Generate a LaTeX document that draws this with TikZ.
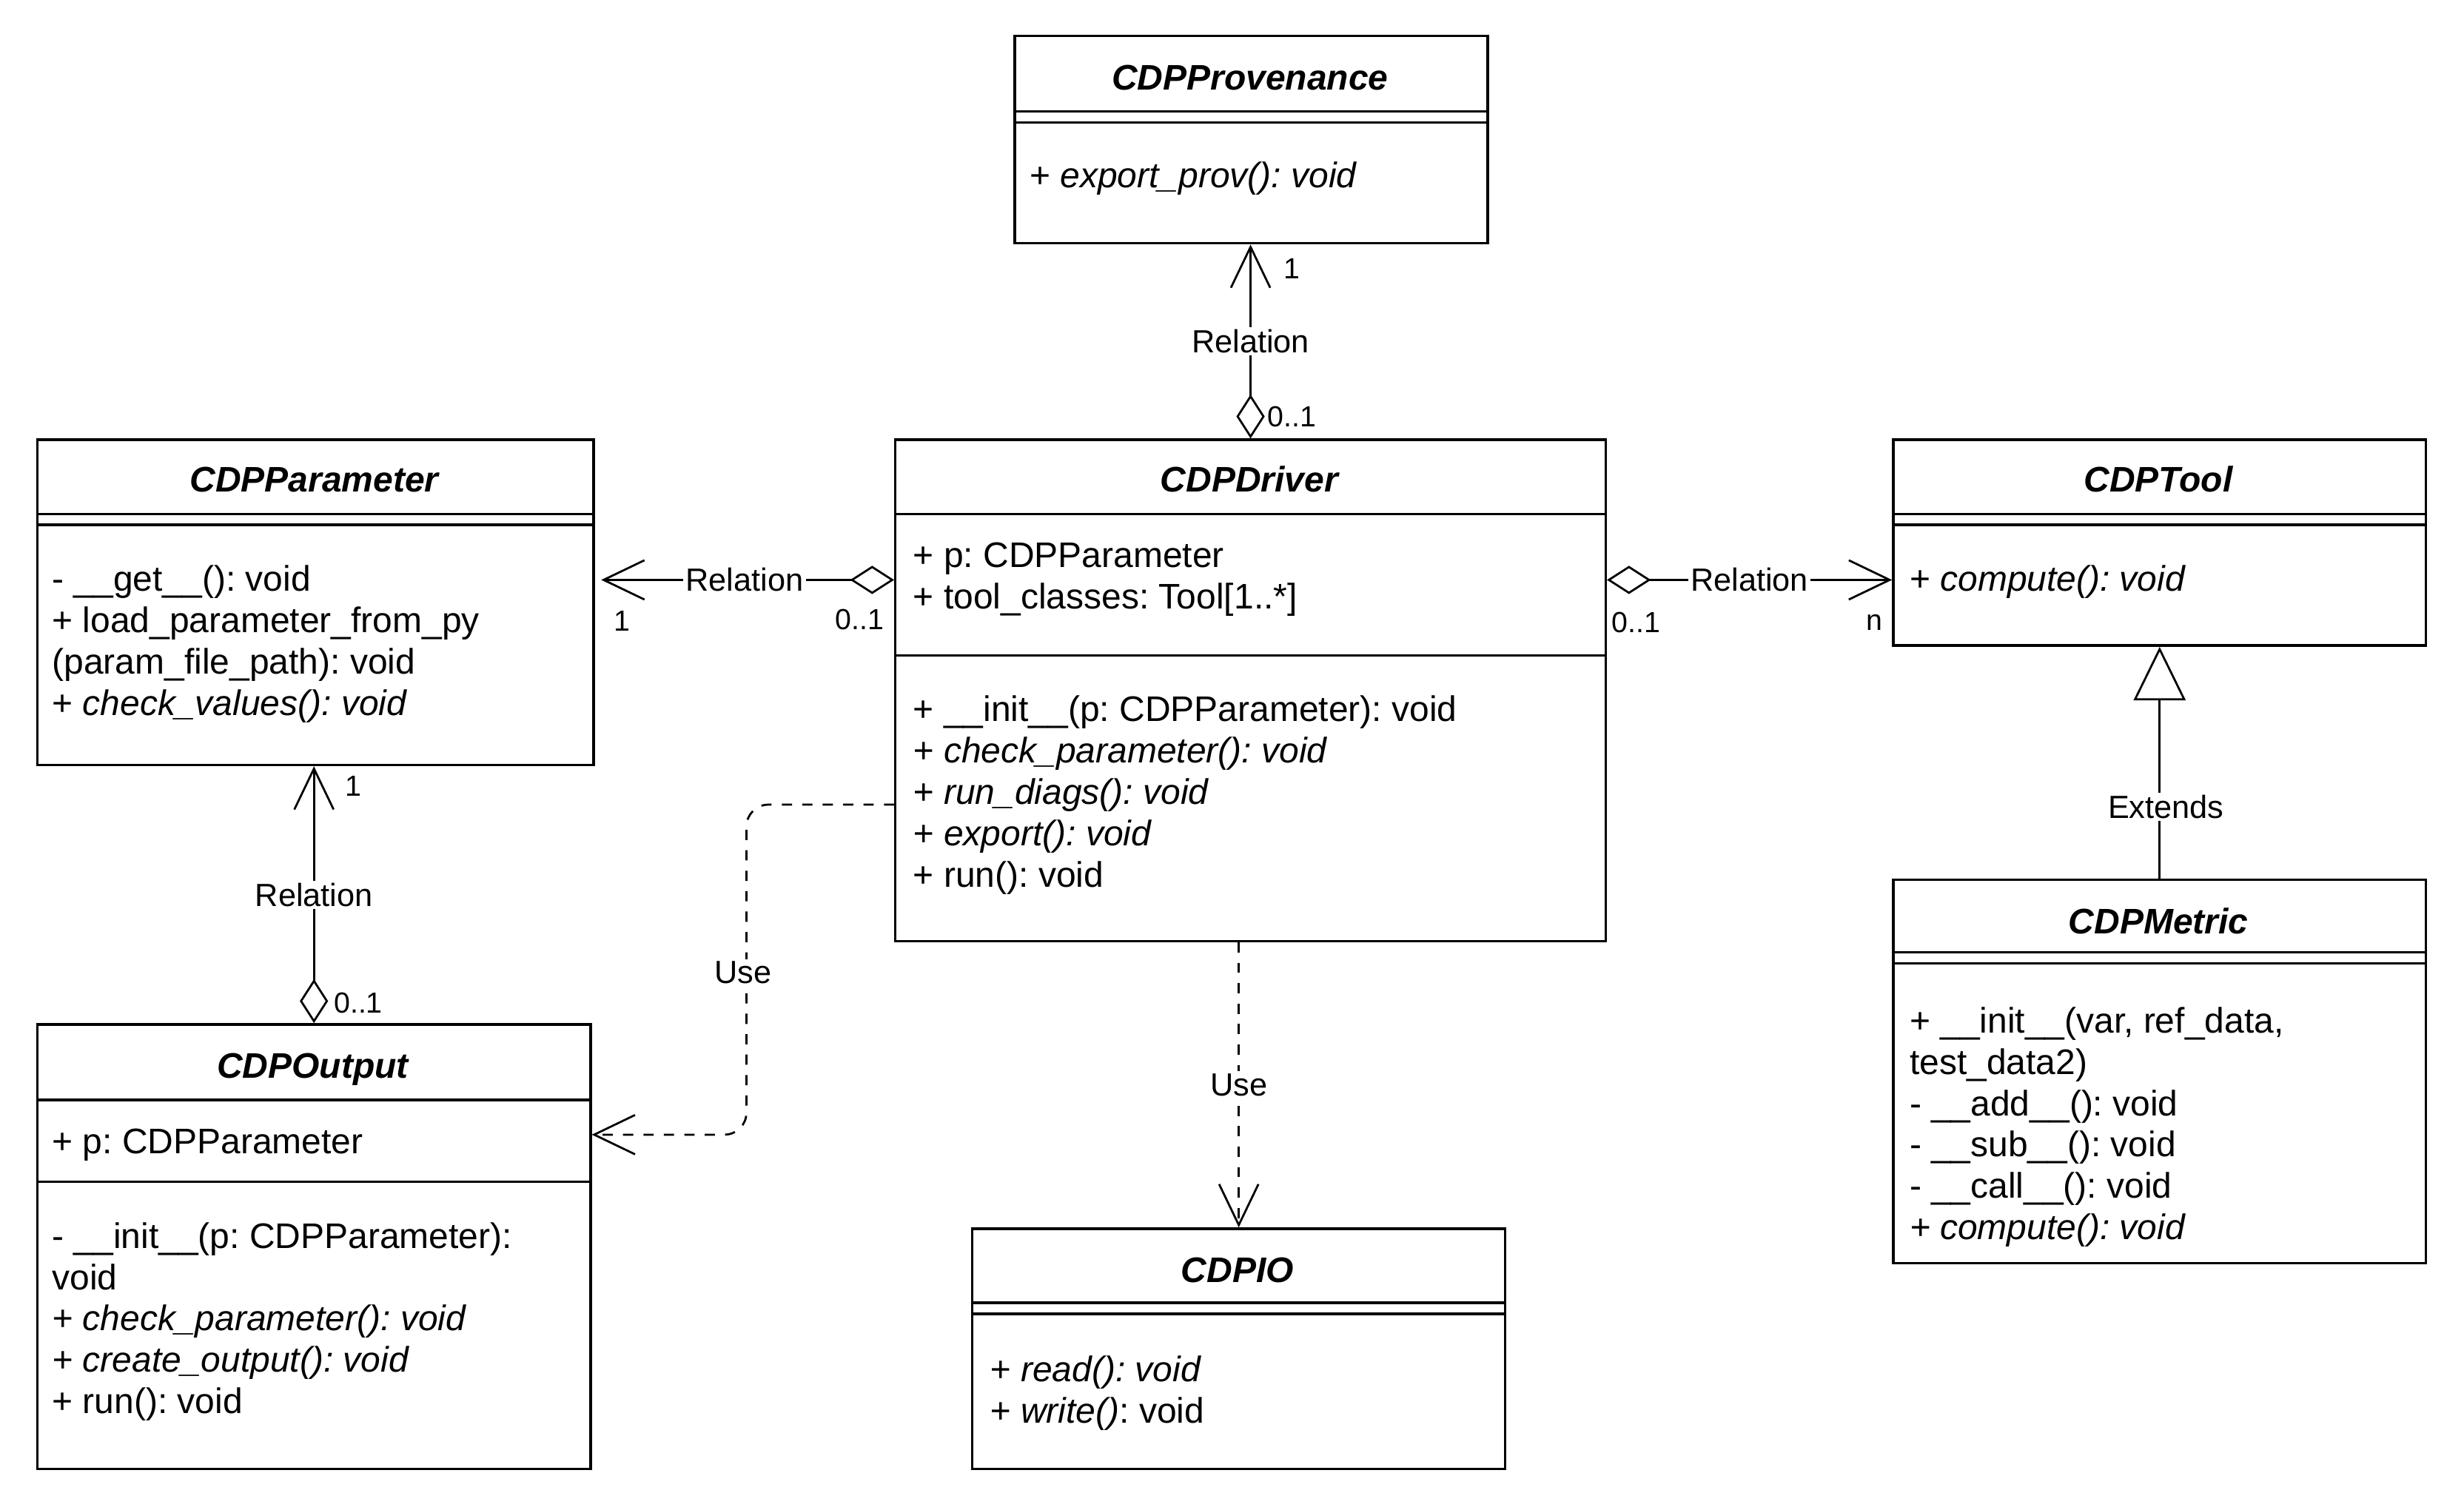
\documentclass[tikz,border=0pt]{standalone}
\usepackage{fontspec}
\setmainfont{Liberation Sans}
\usetikzlibrary{arrows.meta}
\frenchspacing

% type sizes: class members, connector labels, multiplicities
\newcommand\memfont{\fontsize{22.6pt}{26.3pt}\selectfont}
\newcommand\lblfont{\fontsize{20.4pt}{24pt}\selectfont}
\newcommand\mulfont{\fontsize{18.5pt}{22pt}\selectfont}

\begin{document}
\begin{tikzpicture}[x=1pt,y=-1pt,
  classbox/.style={draw, line width=1.6pt, fill=white, inner sep=0pt, anchor=north west},
  sepline/.style={line width=1.6pt},
  title/.style={anchor=base, inner sep=0pt, font=\memfont\bfseries\itshape},
  members/.style={anchor=north west, inner sep=0pt, align=left, font=\memfont},
  lbl/.style={fill=white, inner sep=1.5pt, font=\lblfont},
  mult/.style={inner sep=0pt, font=\mulfont},
  relation/.style={line width=1.3pt,
    {Diamond[open,length=28pt,width=18pt]}-{Straight Barb[length=26pt,width=25pt]}},
  usedep/.style={line width=1.3pt, dash pattern=on 6.5pt off 6.5pt,
    -{Straight Barb[length=26pt,width=25pt]}},
  extends/.style={line width=1.3pt, -{Triangle[open,length=34pt,width=33pt]}},
]
\useasboundingbox (0,0) rectangle (1568,950);

% ---------- class frames ----------
\node[classbox, minimum width=301pt, minimum height=132pt] (prov)   at (645,22)  {};
\node[classbox, minimum width=354pt, minimum height=207pt] (param)  at (23,279)  {};
\node[classbox, minimum width=452pt, minimum height=319pt] (driver) at (569,279) {};
\node[classbox, minimum width=339pt, minimum height=131pt] (tool)   at (1204,279) {};
\node[classbox, minimum width=339pt, minimum height=244pt] (metric) at (1204,559) {};
\node[classbox, minimum width=352pt, minimum height=283pt] (output) at (23,651)  {};
\node[classbox, minimum width=339pt, minimum height=153pt] (io)     at (618,781) {};

% ---------- compartment separators ----------
\draw[sepline] (prov.west |- 0,71) -- (prov.east |- 0,71)
               (prov.west |- 0,78) -- (prov.east |- 0,78);
\draw[sepline] (param.west |- 0,327) -- (param.east |- 0,327)
               (param.west |- 0,334) -- (param.east |- 0,334);
\draw[sepline] (driver.west |- 0,327) -- (driver.east |- 0,327)
               (driver.west |- 0,417) -- (driver.east |- 0,417);
\draw[sepline] (tool.west |- 0,327) -- (tool.east |- 0,327)
               (tool.west |- 0,334) -- (tool.east |- 0,334);
\draw[sepline] (metric.west |- 0,606) -- (metric.east |- 0,606)
               (metric.west |- 0,613) -- (metric.east |- 0,613);
\draw[sepline] (output.west |- 0,700) -- (output.east |- 0,700)
               (output.west |- 0,752) -- (output.east |- 0,752);
\draw[sepline] (io.west |- 0,829) -- (io.east |- 0,829)
               (io.west |- 0,836) -- (io.east |- 0,836);

% ---------- class names ----------
\node[title] (prov-t)   at (795.5,57)  {CDPProvenance};
\node[title] (param-t)  at (200,313)   {CDPParameter};
\node[title] (driver-t) at (795,313)   {CDPDriver};
\node[title] (tool-t)   at (1373.5,313) {CDPTool};
\node[title] (metric-t) at (1373.5,594) {CDPMetric};
\node[title] (output-t) at (199,686)   {CDPOutput};
\node[title] (io-t)     at (787.5,816) {CDPIO};

% ---------- members ----------
\node[members] (prov-m) at (655,100.6)
  {\strut + \textit{export\_prov(): void}};
\node[members] (param-m) at (33,357.6)
  {\strut - \_\_get\_\_(): void\\+ load\_parameter\_from\_py\\(param\_file\_path): void\\+ \textit{check\_values(): void}};
\node[members] (driver-a) at (581,342.6)
  {\strut + p: CDPParameter\\+ tool\_classes: Tool[1..*]};
\node[members] (driver-m) at (581,440.6)
  {\strut + \_\_init\_\_(p: CDPParameter): void\\\textit{+ check\_parameter(): void}\\\textit{+ run\_diags(): void}\\\textit{+ export(): void}\\+ run(): void};
\node[members] (tool-m) at (1215,357.6)
  {\strut + \textit{compute(): void}};
\node[members] (metric-m) at (1215,638.6)
  {\strut + \_\_init\_\_(var, ref\_data,\\test\_data2)\\- \_\_add\_\_(): void\\- \_\_sub\_\_(): void\\- \_\_call\_\_(): void\\\textit{+ compute(): void}};
\node[members] (output-a) at (33,715.6)
  {\strut + p: CDPParameter};
\node[members] (output-m) at (33,775.6)
  {\strut - \_\_init\_\_(p: CDPParameter):\\void\\\textit{+ check\_parameter(): void}\\\textit{+ create\_output(): void}\\+ run(): void};
\node[members] (io-m) at (630,860.6)
  {\strut \textit{+ read(): void}\\\textit{+ write()}: void};

% ---------- associations ----------
\draw[relation] (driver.north) -- (driver.north |- prov.south)
  node[lbl, midway] (rel-prov) {Relation};
\node[mult] (rel-prov-a) at (822,171) {1};
\node[mult] (rel-prov-b) at (822,265) {0..1};

\draw[relation, shorten >=4pt] (driver.west |- 0,369) -- (param.east |- 0,369)
  node[lbl, midway] (rel-param) {Relation};
\node[mult] (rel-param-a) at (396,395) {1};
\node[mult] (rel-param-b) at (547,394) {0..1};

\draw[relation] (driver.east |- 0,369) -- (tool.west |- 0,369)
  node[lbl, midway] (rel-tool) {Relation};
\node[mult] (rel-tool-a) at (1041,396) {0..1};
\node[mult] (rel-tool-b) at (1193,396) {n};

\draw[relation] (output.north) -- (output.north |- param.south)
  node[lbl, midway] (rel-out) {Relation};
\node[mult] (rel-out-a) at (225,500) {1};
\node[mult] (rel-out-b) at (228,638) {0..1};

% ---------- dependencies ----------
\draw[usedep, rounded corners=14pt] (driver.west |- 0,512) -| (475,722) -- (output.east |- 0,722);
\node[lbl] (use-out) at (473,619) {Use};

\draw[usedep] (io.north |- driver.south) -- (io.north)
  node[lbl, midway] (use-io) {Use};

% ---------- generalisation ----------
\draw[extends] (metric.north) -- (tool.south)
  node[lbl, pos=0.31, xshift=4pt] (ext) {Extends};
\end{tikzpicture}
\end{document}
